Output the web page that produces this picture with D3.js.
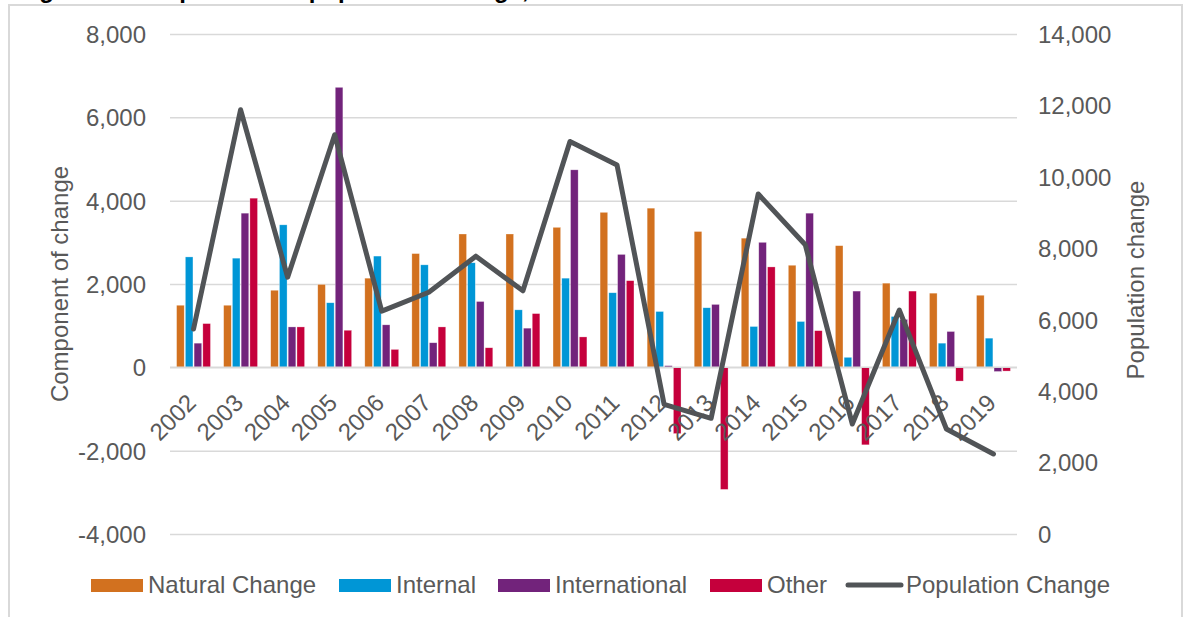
<!DOCTYPE html>
<html>
<head>
<meta charset="utf-8">
<script src="https://cdn.jsdelivr.net/npm/d3@7"></script>
<style>
  html, body { margin: 0; padding: 0; background: #fff; }
  svg { display: block; font-family: "Liberation Sans", Arial, sans-serif; }
</style>
</head>
<body>
<svg id="chart" width="1185" height="617"></svg>
<script>
const years = ["2002","2003","2004","2005","2006","2007","2008","2009","2010","2011","2012","2013","2014","2015","2016","2017","2018","2019"];
const seriesNames = ["Natural Change","Internal","International","Other"];
const seriesColors = ["#D2711F","#0096D6","#72237B","#C5003C"];
const naturalChange = [1490,1490,1850,1990,2140,2730,3200,3200,3360,3720,3820,3260,3100,2450,2920,2020,1780,1730];
const internal = [2650,2620,3420,1550,2670,2460,2510,1380,2140,1790,1340,1430,980,1100,240,1220,580,700];
const international = [580,3700,970,6720,1020,590,1580,940,4740,2710,40,1510,3000,3700,1830,1150,860,-100];
const other = [1050,4060,970,890,430,970,470,1290,730,2080,-1590,-2930,2410,880,-1860,1830,-330,-90];
const populationChange = [5740,11880,7190,11180,6240,6770,7780,6810,10990,10330,3630,3240,9520,8100,3080,6270,2940,2240];
const leftTicks = [-4000,-2000,0,2000,4000,6000,8000];
const rightTicks = [0,2000,4000,6000,8000,10000,12000,14000];
const lineName = "Population Change";
const lineColor = "#515457";
const titleText = "Figure 2: Components of population change, 2002 to 2019";

const svg = d3.select("#chart");
const textColor = "#595959";
const fs = 24;

// border
svg.append("rect").attr("x", 9).attr("y", 5).attr("width", 1173).attr("height", 640)
  .attr("fill", "none").attr("stroke", "#d9d9d9").attr("stroke-width", 2);

// title (cut off at the top edge, as in the reference)
svg.append("text").attr("x", 18).attr("y", -2.5).attr("font-weight", "bold")
  .attr("font-size", 24).attr("fill", "#000").text(titleText);

const plotL = 170, plotR = 1017, plotT = 34, plotB = 534;
const x0 = d3.scaleBand().domain(years).range([plotL, plotR]);
const bw = x0.bandwidth();
const x1 = d3.scaleBand().domain(seriesNames).range([bw * 0.14, bw * 0.86]).paddingInner(0.13);
const yL = d3.scaleLinear().domain([-4000, 8000]).range([plotB, plotT]);
const yR = d3.scaleLinear().domain([0, 14000]).range([plotB, plotT]);
const fmtBase = d3.format(",");
const fmt = v => fmtBase(v).replace("\u2212", "-");

// gridlines
const yAxisGrid = d3.axisLeft(yL).tickValues(leftTicks).tickSize(-(plotR - plotL)).tickFormat("");
const g = svg.append("g").attr("transform", `translate(${plotL},0)`).call(yAxisGrid);
g.select(".domain").remove();
g.selectAll(".tick line").attr("stroke", "#d9d9d9").attr("stroke-width", 1.5);

// left axis labels
const la = svg.append("g").attr("transform", `translate(${plotL - 21},0)`)
  .call(d3.axisLeft(yL).tickValues(leftTicks).tickSize(0).tickFormat(fmt));
la.select(".domain").remove();
la.selectAll("text").attr("font-size", fs).attr("fill", textColor)
  .attr("font-family", "Liberation Sans, Arial, sans-serif").attr("dy", "0.35em");

// right axis labels
const ra = svg.append("g").attr("transform", `translate(${plotR + 21},0)`)
  .call(d3.axisRight(yR).tickValues(rightTicks).tickSize(0).tickFormat(fmt));
ra.select(".domain").remove();
ra.selectAll("text").attr("font-size", fs).attr("fill", textColor)
  .attr("font-family", "Liberation Sans, Arial, sans-serif").attr("dy", "0.35em").attr("x", 0);

// bars
const seriesData = [naturalChange, internal, international, other];
seriesNames.forEach((name, si) => {
  svg.append("g").selectAll("rect").data(seriesData[si]).join("rect")
    .attr("x", (d, i) => x0(years[i]) + x1(name))
    .attr("width", x1.bandwidth())
    .attr("y", d => yL(Math.max(0, d)))
    .attr("height", d => Math.abs(yL(d) - yL(0)))
    .attr("fill", seriesColors[si])
    .attr("stroke", "#ffffff").attr("stroke-opacity", 0.5).attr("stroke-width", 0.6);
});

// zero line on top of bars
svg.append("line").attr("x1", plotL).attr("x2", plotR).attr("y1", yL(0)).attr("y2", yL(0))
  .attr("stroke", "#d9d9d9").attr("stroke-width", 1.5);

// x labels
svg.append("g").selectAll("text").data(years).join("text")
  .attr("transform", d => `translate(${x0(d) + bw / 2 + 4},${yL(0) + 37}) rotate(-45)`)
  .attr("text-anchor", "end").attr("font-size", fs).attr("fill", textColor).text(d => d);

// line
const line = d3.line().x((d, i) => x0(years[i]) + bw / 2).y(d => yR(d));
svg.append("path").datum(populationChange).attr("d", line)
  .attr("fill", "none").attr("stroke", lineColor).attr("stroke-width", 5)
  .attr("stroke-linejoin", "round").attr("stroke-linecap", "round");

// axis titles
svg.append("text").attr("transform", `translate(68,284) rotate(-90)`)
  .attr("text-anchor", "middle").attr("font-size", fs).attr("fill", textColor).text("Component of change");
svg.append("text").attr("transform", `translate(1144,280) rotate(-90)`)
  .attr("text-anchor", "middle").attr("font-size", fs).attr("fill", textColor).text("Population change");

// legend
const legendX = [91, 339, 498, 710];
seriesNames.forEach((name, i) => {
  svg.append("rect").attr("x", legendX[i]).attr("y", 579).attr("width", 52).attr("height", 13)
    .attr("fill", seriesColors[i]);
  svg.append("text").attr("x", legendX[i] + 57).attr("y", 585).attr("dy", "0.35em")
    .attr("font-size", fs).attr("fill", textColor).text(name);
});
svg.append("line").attr("x1", 848).attr("x2", 901).attr("y1", 585).attr("y2", 585)
  .attr("stroke", lineColor).attr("stroke-width", 5).attr("stroke-linecap", "round");
svg.append("text").attr("x", 906).attr("y", 585).attr("dy", "0.35em")
  .attr("font-size", fs).attr("fill", textColor).text(lineName);
</script>
</body>
</html>
